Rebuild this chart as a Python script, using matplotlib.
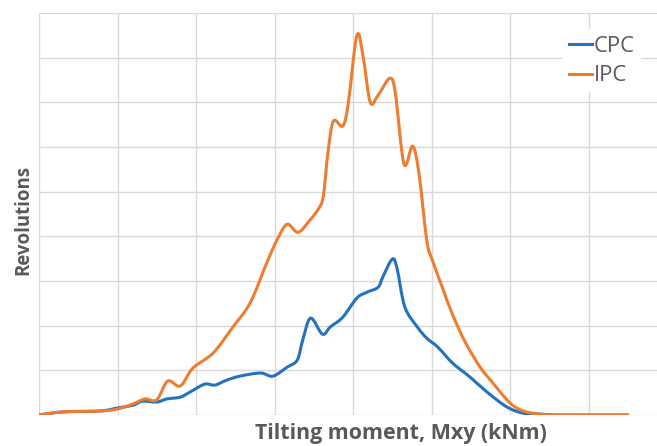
import matplotlib
matplotlib.use("Agg")
import matplotlib.pyplot as plt
import numpy as np
from matplotlib.path import Path
from matplotlib.patches import PathPatch
from matplotlib.lines import Line2D

# ---- data (x in grid units, y in grid units) ----
ipc_x = [0, 0.31, 0.78, 0.99, 1.20, 1.35, 1.50, 1.64, 1.80, 1.96, 2.22, 2.47, 2.69, 2.90,
         3.03, 3.16, 3.30, 3.45, 3.55, 3.62, 3.68, 3.75, 3.87, 3.94, 4.05, 4.13, 4.22,
         4.32, 4.47, 4.54, 4.65, 4.76, 4.84, 4.94, 5.01, 5.15, 5.27, 5.43, 5.62, 5.78,
         6.00, 6.17, 6.38, 6.64, 7.50]
ipc_y = [0, 0.07, 0.09, 0.13, 0.25, 0.36, 0.34, 0.76, 0.65, 1.05, 1.39, 1.97, 2.51, 3.40,
         3.91, 4.27, 4.09, 4.36, 4.59, 4.88, 5.86, 6.58, 6.47, 6.98, 8.50, 8.01, 7.00,
         7.16, 7.54, 7.20, 5.62, 6.02, 5.41, 3.91, 3.47, 2.80, 2.24, 1.63, 1.07, 0.72,
         0.27, 0.09, 0.02, 0.0, 0.0]

cpc_x = [0, 0.31, 0.78, 1.01, 1.20, 1.32, 1.50, 1.63, 1.80, 1.92, 2.11, 2.24, 2.39, 2.56,
         2.82, 2.98, 3.16, 3.29, 3.36, 3.46, 3.61, 3.71, 3.87, 4.05, 4.18, 4.32, 4.38,
         4.50, 4.56, 4.66, 4.82, 4.94, 5.08, 5.27, 5.49, 5.71, 5.96, 6.17, 6.38, 6.64, 7.50]
cpc_y = [0, 0.07, 0.09, 0.16, 0.22, 0.31, 0.29, 0.36, 0.40, 0.51, 0.69, 0.67, 0.78, 0.87,
         0.94, 0.87, 1.07, 1.23, 1.68, 2.17, 1.81, 1.97, 2.19, 2.62, 2.75, 2.86, 3.09,
         3.49, 3.29, 2.42, 1.97, 1.72, 1.52, 1.16, 0.85, 0.51, 0.18, 0.04, 0.02, 0.0, 0.0]

series_names = ["CPC", "IPC"]
series_colors = ["#2472BE", "#ED7D31"]
x_label = "Tilting moment, Mxy (kNm)"
y_label = "Revolutions"


def smooth_path(xs, ys):
    """Smoothed (Excel-like) line through the points as cubic Bezier segments."""
    p = np.column_stack([xs, ys]).astype(float)
    n = len(p)
    verts = [p[0]]
    codes = [Path.MOVETO]
    for i in range(n - 1):
        p0 = p[i - 1] if i > 0 else p[i]
        p1, p2 = p[i], p[i + 1]
        p3 = p[i + 2] if i + 2 < n else p[i + 1]
        c1 = p1 + (p2 - p0) / 6.0
        c2 = p2 - (p3 - p1) / 6.0
        verts += [c1, c2, p2]
        codes += [Path.CURVE4] * 3
    return Path(np.array(verts), codes)


W, H = 657, 446
fig = plt.figure(figsize=(W / 100, H / 100), dpi=100)
ax = fig.add_axes([39 / W, 31 / H, 1 - 39 / W, (415 - 13) / H])

lw = 2.2
for xs, ys, c in [(cpc_x, cpc_y, series_colors[0]), (ipc_x, ipc_y, series_colors[1])]:
    ax.add_patch(PathPatch(smooth_path(xs, ys), fill=False, edgecolor=c, lw=lw,
                           joinstyle="round", capstyle="round", zorder=3))

ax.set_xlim(0, (W - 39) / 78.5)
ax.set_ylim(0, 9)
ax.set_xticks(range(0, 8))
ax.set_yticks(range(0, 10))
ax.tick_params(length=0, labelbottom=False, labelleft=False)
ax.grid(True, color="#D9D9D9", lw=1.0)
ax.set_axisbelow(True)
for s in ax.spines.values():
    s.set_visible(False)

fam = "Open Sans"
handles = [Line2D([], [], color=c, lw=lw) for c in series_colors]
leg = ax.legend(handles, series_names, loc="upper left",
                bbox_to_anchor=((552 - 39) / (W - 39), 1 - (19 - 13) / (415 - 13)),
                frameon=True, framealpha=1, edgecolor="none", facecolor="white",
                handlelength=1.1, handletextpad=0.1, borderpad=0.3, labelspacing=0.4,
                prop={"family": fam, "size": 15})
for t in leg.get_texts():
    t.set_color("#595959")

xl = fig.text(401 / W, 1 - 434 / H, x_label, ha="center", va="center",
              fontsize=14, fontweight="bold", color="#595959", family=fam)
yl = fig.text(23 / W, 1 - 220 / H, y_label, ha="center", va="center", rotation=90,
              fontsize=14, fontweight="bold", color="#595959", family=fam)

# fit font sizes to the measured text extents
fig.canvas.draw()
r = fig.canvas.get_renderer()
for t, target, axis in [(xl, 293, "w"), (yl, 110, "h")]:
    bb = t.get_window_extent(r)
    cur = bb.width if axis == "w" else bb.height
    t.set_fontsize(t.get_fontsize() * target / cur)
bb = leg.get_texts()[0].get_window_extent(r)
for t in leg.get_texts():
    t.set_fontsize(t.get_fontsize() * 41 / bb.width)

fig.savefig("out.png", dpi=100, facecolor="white")
